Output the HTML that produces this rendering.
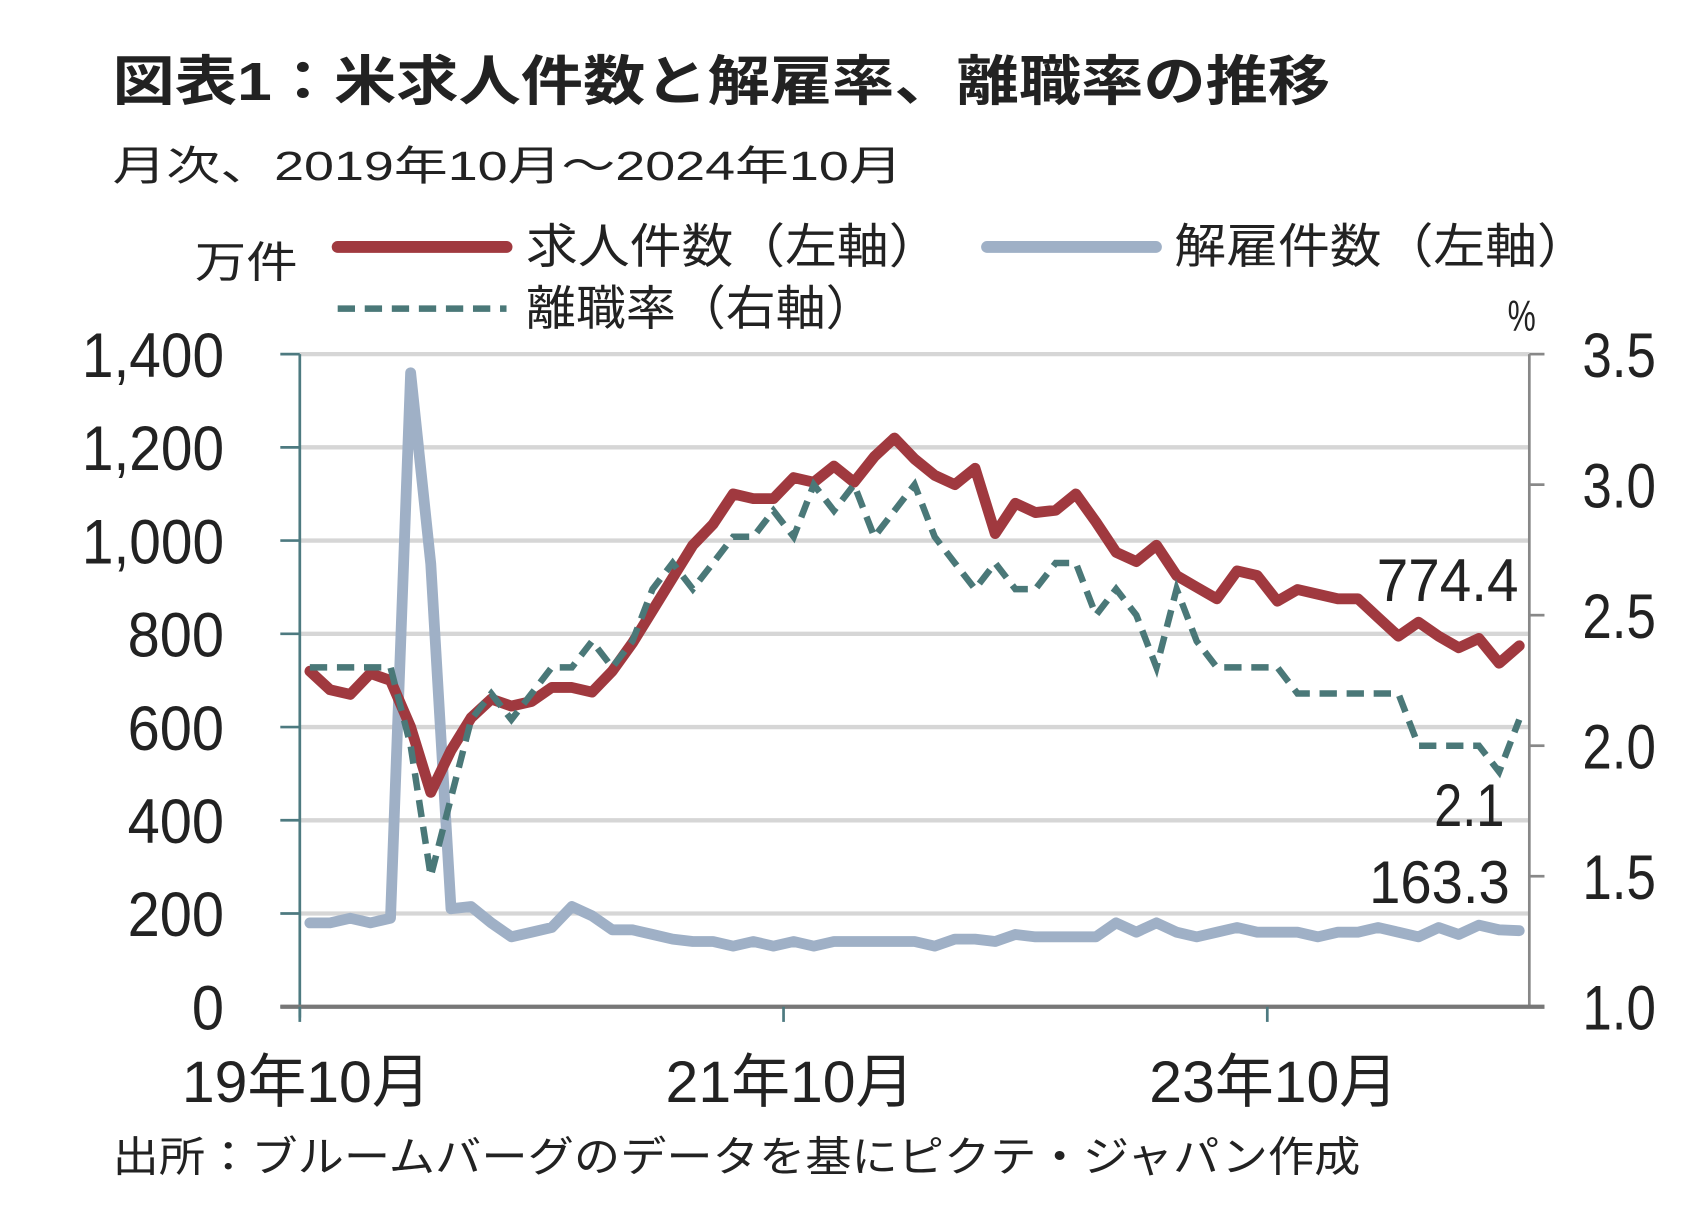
<!DOCTYPE html>
<html><head><meta charset="utf-8">
<style>
html,body{margin:0;padding:0;background:#fff;}
svg{display:block;}
text{font-family:"Liberation Sans","Noto Sans CJK JP",sans-serif;fill:#222;}
.num{font-family:"Liberation Sans Narrow","Liberation Sans","Noto Sans CJK JP",sans-serif;}
</style></head>
<body>
<svg id="chart" width="1696" height="1218" viewBox="0 0 1567 1125" xmlns="http://www.w3.org/2000/svg">
<text x="104" y="92" font-size="50" font-weight="bold" fill="#333" textLength="1125" lengthAdjust="spacingAndGlyphs">図表1：米求人件数と解雇率、離職率の推移</text>
<text x="104" y="166" font-size="38" textLength="730" lengthAdjust="spacingAndGlyphs">月次、2019年10月～2024年10月</text>
<text x="180" y="256" font-size="40" textLength="95" lengthAdjust="spacingAndGlyphs">万件</text>
<g>
<line x1="312" y1="228" x2="468" y2="228" stroke="#a0393f" stroke-width="11" stroke-linecap="round"/>
<text x="486" y="243" font-size="44" textLength="383" lengthAdjust="spacingAndGlyphs">求人件数（左軸）</text>
<line x1="912" y1="228" x2="1068" y2="228" stroke="#9fb0c6" stroke-width="11" stroke-linecap="round"/>
<text x="1085" y="243" font-size="44" textLength="383" lengthAdjust="spacingAndGlyphs">解雇件数（左軸）</text>
<line x1="312" y1="285" x2="468" y2="285" stroke="#4a7878" stroke-width="6" stroke-dasharray="16 9"/>
<text x="486" y="300" font-size="44" textLength="323" lengthAdjust="spacingAndGlyphs">離職率（右軸）</text>
</g>
<text class="num" x="1406" y="305" font-size="40" text-anchor="middle" textLength="26" lengthAdjust="spacingAndGlyphs">%</text>
<g id="grid"></g>
<g id="axes"></g>
<g id="series"></g>
<text class="num" x="1272" y="555" font-size="56" textLength="131" lengthAdjust="spacingAndGlyphs">774.4</text>
<text class="num" x="1325" y="763" font-size="56" textLength="65" lengthAdjust="spacingAndGlyphs">2.1</text>
<text class="num" x="1265" y="834" font-size="56" textLength="130" lengthAdjust="spacingAndGlyphs">163.3</text>
<text x="104" y="1082" font-size="39" textLength="1153" lengthAdjust="spacingAndGlyphs">出所：ブルームバーグのデータを基にピクテ・ジャパン作成</text>
</svg>
<script>
const openings = [720,680,670, 715,700,600,460,550,620,660,645,655,685,685,675, 720,780,850,920,990,1035,1100,1090,1090,1135,1125,1160, 1125,1180,1220,1175,1140,1120,1155,1015,1080,1060,1065,1100, 1040,975,955,990,925,900,875,935,925,870,895,885, 875,875,835,795,825,795,770,790,737,774.4];
const layoffs = [180,180,190, 180,190,1360,950,210,215,180,150,160,170,215,195, 165,165,155,145,140,140,130,140,130,140,130,140, 140,140,140,140,130,145,145,140,155,150,150,150, 150,180,160,180,160,150,160,170,160,160,160,150, 160,160,170,160,150,170,155,175,165,163.3];
const quits = [2.3,2.3,2.3, 2.3,2.3,2.0,1.5,1.8,2.1,2.2,2.1,2.2,2.3,2.3,2.4, 2.3,2.4,2.6,2.7,2.6,2.7,2.8,2.8,2.9,2.8,3.0,2.9, 3.0,2.8,2.9,3.0,2.8,2.7,2.6,2.7,2.6,2.6,2.7,2.7, 2.5,2.6,2.5,2.3,2.6,2.4,2.3,2.3,2.3,2.3,2.2,2.2, 2.2,2.2,2.2,2.2,2.0,2.0,2.0,2.0,1.9,2.1];
const leftTicks = [0,200,400,600,800,1000,1200,1400];
const leftTickLabels = ["0","200","400","600","800","1,000","1,200","1,400"];
const rightTicks = [1.0,1.5,2.0,2.5,3.0,3.5];
const rightTickLabels = ["1.0","1.5","2.0","2.5","3.0","3.5"];
const xTickIndex = [0,24,48];
const xTickLabels = ["19年10月","21年10月","23年10月"];

const NS="http://www.w3.org/2000/svg";
const X0=277,X1=1413,Y0=930,Y1=327,N=openings.length;
const step=(X1-X0)/N;
const xc=i=>X0+(i+0.5)*step;
const xb=i=>X0+i*step;
const yL=v=>Y0-(v-0)/(1400-0)*(Y0-Y1);
const yR=v=>Y0-(v-1.0)/(3.5-1.0)*(Y0-Y1);
function tl(s){let w=0;for(const c of s){w+=(c===','||c==='.')?12.5:29.7;}return w;}
function mk(tag,attrs,parent){const e=document.createElementNS(NS,tag);for(const k in attrs)e.setAttribute(k,attrs[k]);parent.appendChild(e);return e;}
const grid=document.getElementById('grid'),axes=document.getElementById('axes'),series=document.getElementById('series');
leftTicks.forEach((v,i)=>{
  if(v>0){const g=mk('line',{x1:X0,x2:X1,y1:yL(v),y2:yL(v),stroke:'#d6d6d6','stroke-width':4},grid);
  
  }
  const t=mk('line',{x1:X0-18,x2:X0,y1:yL(v),y2:yL(v),stroke:'#4d7a80','stroke-width':2.5},axes);
  
  
  const s=leftTickLabels[i];
  const l=mk('text',{x:207-tl(s),y:yL(v)+21,'font-size':58,class:'num',textLength:tl(s),lengthAdjust:'spacingAndGlyphs'},axes);
  l.textContent=s;
  
  
});
rightTicks.forEach((v,i)=>{
  const t=mk('line',{x1:X1,x2:X1+14,y1:yR(v),y2:yR(v),stroke:'#888','stroke-width':2.5},axes);
  
  
  const s=rightTickLabels[i];
  const l=mk('text',{x:1462,y:yR(v)+21,'font-size':58,class:'num',textLength:68,lengthAdjust:'spacingAndGlyphs'},axes);
  l.textContent=s;
  
  
});
const la=mk('line',{x1:X0,x2:X0,y1:Y1,y2:Y0+10,stroke:'#4d7a80','stroke-width':2.5},axes);


const ra=mk('line',{x1:X1,x2:X1,y1:Y1,y2:Y0,stroke:'#888','stroke-width':2.5},axes);


const xa=mk('line',{x1:X0-18,x2:X1+14,y1:Y0,y2:Y0,stroke:'#777','stroke-width':4},axes);


xTickIndex.forEach((idx,i)=>{
  const t=mk('line',{x1:xb(idx),x2:xb(idx),y1:Y0,y2:Y0+14,stroke:'#4d7a80','stroke-width':2.5},axes);
  
  
  const l=mk('text',{x:xb(idx)-109,y:1018,'font-size':54,class:'num',textLength:230,lengthAdjust:'spacingAndGlyphs'},axes);
  l.textContent=xTickLabels[i];
  
  
});
function pts(arr,fy){return arr.map((v,i)=>xc(i).toFixed(1)+','+fy(v).toFixed(1)).join(' ');}
const pl=mk('polyline',{points:pts(layoffs,yL),fill:'none',stroke:'#9fb0c6','stroke-width':10,'stroke-linejoin':'round','stroke-linecap':'round'},series);


const po=mk('polyline',{points:pts(openings,yL),fill:'none',stroke:'#a0393f','stroke-width':10,'stroke-linejoin':'round','stroke-linecap':'round'},series);


const pq=mk('polyline',{points:pts(quits,yR),fill:'none',stroke:'#4a7878','stroke-width':6,'stroke-dasharray':'16 9'},series);


</script>
</body></html>
